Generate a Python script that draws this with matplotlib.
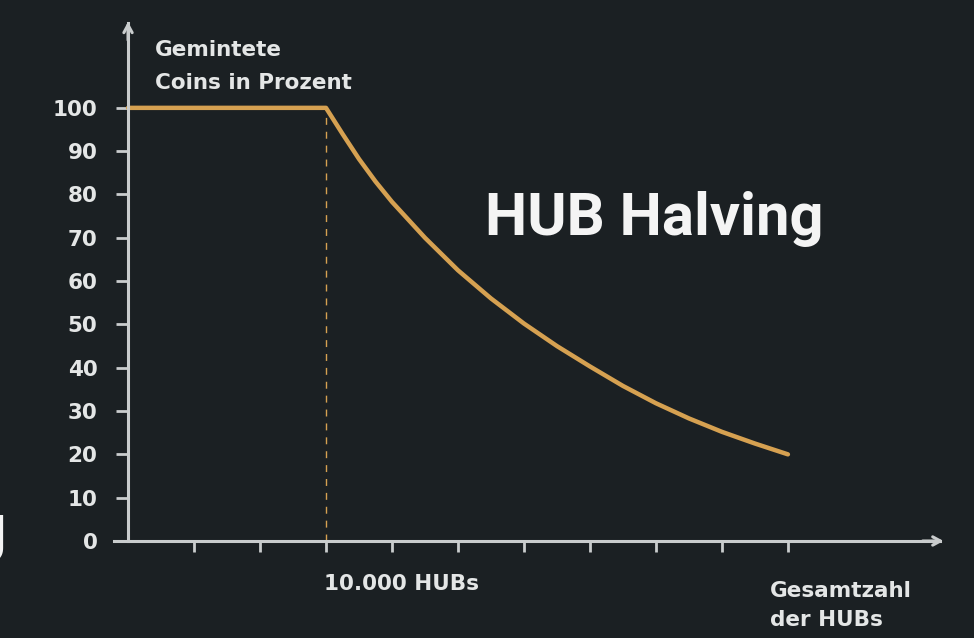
import matplotlib.pyplot as plt
from matplotlib.lines import Line2D

# x in Abschnitten der Achse (Abschnitt 3 = 10.000 HUBs)
hubs = [0, 3, 3.25, 3.5, 3.75, 4, 4.5, 5, 5.5, 6, 6.5, 7, 7.5, 8, 8.5, 9, 9.5, 10]
prozent = [100, 100, 94, 88.2, 83, 78.3, 70, 62.5, 56, 50.2, 45, 40.3, 35.8,
           31.8, 28.3, 25.2, 22.5, 20]
y_ticks = [0, 10, 20, 30, 40, 50, 60, 70, 80, 90, 100]
x_ticks = [1, 2, 3, 4, 5, 6, 7, 8, 9, 10]
marke = 3
marke_label = '10.000 HUBs'

hintergrund = '#1b2023'
achse = '#c9cccd'
orange = '#d6a151'
textfarbe = '#e4e6e6'

fig = plt.figure(figsize=(9.74, 6.38), dpi=100, facecolor=hintergrund)
ax = fig.add_axes([0, 0, 1, 1])
ax.set_facecolor(hintergrund)
ax.set_xlim(-1.94, 12.82)
ax.set_ylim(-22.4, 124.9)

# dezente Linien im Hintergrund
for (x0, y0), (x1, y1) in [((0.13, 0.45), (1.0, 0.215)),
                           ((0.915, 1.0), (0.965, 0.467)),
                           ((0.965, 0.467), (1.0, 0.48)),
                           ((0.965, 0.467), (1.0, 0.62))]:
    fig.add_artist(Line2D([x0, x1], [y0, y1], color='#2d3539', lw=1.3, zorder=0))

for s in ['top', 'right']:
    ax.spines[s].set_visible(False)
ax.spines['left'].set_position(('data', 0))
ax.spines['bottom'].set_position(('data', 0))
ax.spines['left'].set_bounds(0, 119.5)
ax.spines['bottom'].set_bounds(-0.22, 12.3)
for s in ['left', 'bottom']:
    ax.spines[s].set_color(achse)
    ax.spines[s].set_linewidth(2.2)

schrift = dict(fontfamily='DejaVu Sans', fontweight='bold', fontsize=15.5)

ax.set_yticks(y_ticks)
ax.set_xticks(x_ticks, labels=[''] * len(x_ticks))
ax.tick_params(axis='y', direction='out', length=9, width=2, color=achse,
               labelcolor=textfarbe, pad=13)
ax.tick_params(axis='x', direction='out', length=8, width=2, color=achse)
for lab in ax.get_yticklabels():
    lab.set(**schrift)

# Pfeilspitzen
ax.annotate('', xy=(0, 120.5), xytext=(0, 115), annotation_clip=False,
            arrowprops=dict(arrowstyle='->,head_length=0.55,head_width=0.3',
                            color=achse, lw=2.2))
ax.annotate('', xy=(12.4, 0), xytext=(12.0, 0), annotation_clip=False,
            arrowprops=dict(arrowstyle='->,head_length=0.55,head_width=0.3',
                            color=achse, lw=2.2))

ax.plot([marke, marke], [0, 100], color=orange, lw=1, ls=(0, (5, 5)))
ax.plot(hubs, prozent, color=orange, lw=3.2, solid_capstyle='round',
        solid_joinstyle='round')

ax.text(0.41, 115.6, 'Gemintete\nCoins in Prozent', color=textfarbe,
        va='top', ha='left', linespacing=1.8, **schrift)
ax.text(5.41, 70.7, 'HUB Halving', color='#f4f4f4', fontsize=43,
        fontfamily='Roboto', fontweight='bold', va='baseline', ha='left')
ax.text(marke - 0.03, -10.0, marke_label, color=textfarbe,
        va='center', ha='left', **schrift)
ax.text(9.73, -9.3, 'Gesamtzahl\nder HUBs', color=textfarbe,
        va='top', ha='left', linespacing=1.55, **schrift)

fig.text(0.007, 0.146, 'J', color='#f4f4f4', fontsize=48, fontfamily='Roboto',
         fontweight='bold', ha='right', va='center')

fig.savefig('out.png', dpi=100, facecolor=hintergrund)
